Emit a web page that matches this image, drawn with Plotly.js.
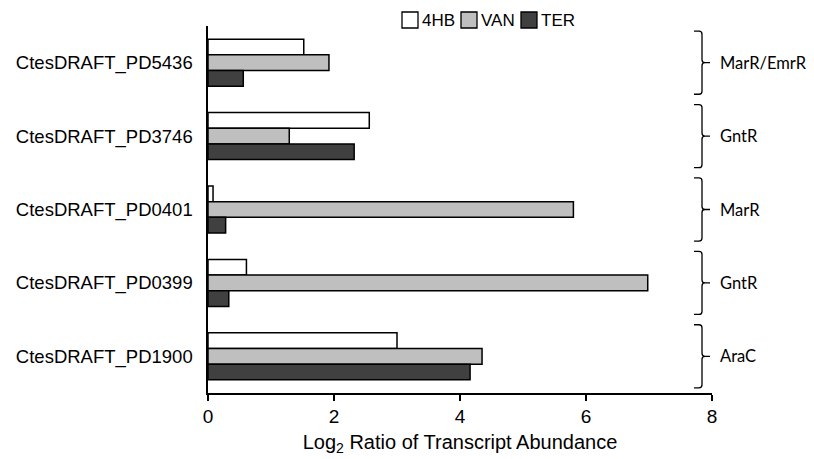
<!DOCTYPE html>
<html>
<head>
<meta charset="utf-8">
<script src="https://cdn.plot.ly/plotly-3.0.1.min.js"></script>
<style>html,body{margin:0;padding:0;background:#fff;}#chart{width:814px;height:459px;}</style>
</head>
<body>
<div id="chart"></div>
<script>
// ---- data ----
const genes = ["CtesDRAFT_PD5436", "CtesDRAFT_PD3746", "CtesDRAFT_PD0401", "CtesDRAFT_PD0399", "CtesDRAFT_PD1900"];
const families = ["MarR/EmrR", "GntR", "MarR", "GntR", "AraC"];
const seriesNames = ["4HB", "VAN", "TER"];
const v4HB = [1.52, 2.56, 0.08, 0.61, 3.00];
const vVAN = [1.92, 1.29, 5.80, 6.98, 4.35];
const vTER = [0.56, 2.32, 0.28, 0.33, 4.16];
const xTicks = [0, 2, 4, 6, 8];

// ---- layout constants ----
const W = 814, H = 459;
const M = {l: 208, r: 102, t: 26, b: 66};
const PW = W - M.l - M.r, PH = H - M.t - M.b;
const px2x = p => (p - M.l) / PW;
const py2y = p => 1 - (p - M.t) / PH;

const colors = ["#ffffff", "#bfbfbf", "#404040"];
const values = [v4HB, vVAN, vTER];
const traces = seriesNames.map((n, k) => ({
  type: "bar", orientation: "h", name: n,
  x: values[k], y: genes,
  marker: {color: colors[k], line: {color: "#000", width: 1.5}},
  hoverinfo: "x+name", showlegend: false
}));

const shapes = [];
const annotations = [];

// legend (boxes + labels)
const legBoxX = [402, 461, 521];
seriesNames.forEach((nm, k) => {
  shapes.push({type: "rect", xref: "paper", yref: "paper",
    x0: px2x(legBoxX[k]), x1: px2x(legBoxX[k] + 16), y0: py2y(28), y1: py2y(12),
    fillcolor: colors[k], line: {color: "#000", width: 1.3}});
  annotations.push({xref: "paper", yref: "paper", x: px2x(legBoxX[k] + 18), y: py2y(20.5),
    xanchor: "left", yanchor: "middle", text: nm, showarrow: false,
    font: {family: "'Liberation Sans', Arial, sans-serif", size: 17, color: "#000"}});
});

// braces
const n = genes.length;
genes.forEach((g, i) => {
  const c = 1 - (i + 0.5) / n;
  const half = 0.43 / n;
  const top = c + half, bot = c - half;
  const xh = px2x(694), xv = px2x(702), xt = px2x(710);
  const rx = 3 / PW, ry = 3 / PH;
  const path = `M${xh},${top} L${xv - rx},${top} Q${xv},${top} ${xv},${top - ry} ` +
    `L${xv},${c + ry} Q${xv},${c} ${xv + rx},${c} L${xt},${c} ` +
    `M${xv + rx},${c} Q${xv},${c} ${xv},${c - ry} L${xv},${bot + ry} ` +
    `Q${xv},${bot} ${xv - rx},${bot} L${xh},${bot}`;
  shapes.push({type: "path", xref: "paper", yref: "paper", path: path,
    line: {color: "#000", width: 1.3}});
  annotations.push({xref: "paper", yref: "paper", x: px2x(718), y: c,
    xanchor: "left", yanchor: "middle", text: families[i], showarrow: false,
    font: {family: "Lato, 'Open Sans', sans-serif", size: 16.5, color: "#000"}});
});

const layout = {
  width: W, height: H,
  margin: M,
  paper_bgcolor: "#fff", plot_bgcolor: "#fff",
  font: {family: "'Liberation Sans', Arial, sans-serif", color: "#000"},
  barmode: "group", bargap: 0.36, bargroupgap: 0,
  showlegend: false,
  xaxis: {
    range: [0, 8], tickvals: xTicks, ticktext: xTicks.map(String),
    showgrid: false, zeroline: false, showline: true, linecolor: "#000", linewidth: 1.6,
    ticks: "outside", ticklen: 6, tickwidth: 1.5, tickcolor: "#000",
    tickfont: {size: 19},
    title: {text: "Log<sub>2</sub> Ratio of Transcript Abundance", font: {size: 20}, standoff: 8}
  },
  yaxis: {
    type: "category", categoryorder: "array", categoryarray: genes,
    autorange: "reversed",
    showgrid: false, zeroline: false, showline: true, linecolor: "#000", linewidth: 1.6,
    ticks: "", tickfont: {size: 18.5}, ticklabelstandoff: 10
  },
  shapes: shapes,
  annotations: annotations
};

Plotly.newPlot("chart", traces, layout, {displayModeBar: false, staticPlot: true});
</script>
</body>
</html>
